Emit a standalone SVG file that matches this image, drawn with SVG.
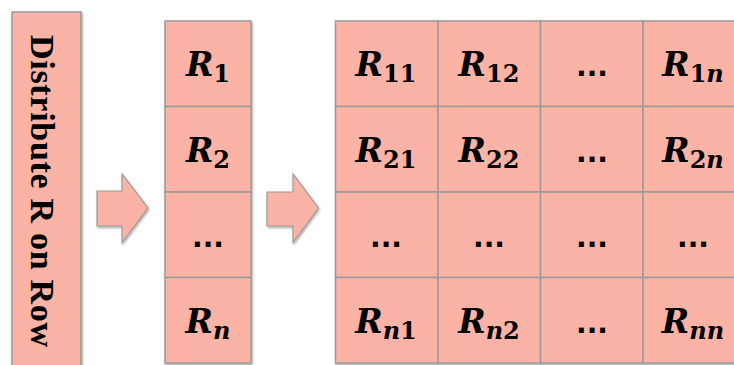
<svg xmlns="http://www.w3.org/2000/svg" width="734" height="365" viewBox="0 0 734 365">
<defs>
<filter id="sh" x="-10%" y="-10%" width="130%" height="130%">
<feDropShadow dx="1" dy="1.5" stdDeviation="1.2" flood-color="#000" flood-opacity="0.35"/>
</filter>
</defs>
<style>
.cell{fill:#FBB3A5;stroke:#9a9a9a;stroke-width:1.5}
.arr{fill:#FBB3A5;stroke:#9a9a9a;stroke-width:1.2}
.lbl{font-family:"DejaVu Serif","Liberation Serif",serif;font-weight:bold;fill:#000;text-anchor:middle}
.R{font-style:italic;font-size:33px}
.sub{font-size:24px}
.si{font-style:italic}
.dots{font-family:"DejaVu Sans",sans-serif;font-weight:bold;font-size:28px;text-anchor:middle}
.vt{font-family:"Liberation Serif","Times New Roman",serif;font-weight:bold;font-size:34px}
</style>
<rect width="734" height="365" fill="#fff"/>
<g id="label-bar">
<rect class="cell" x="12" y="12" width="69" height="370" filter="url(#sh)"/>
<text class="vt" transform="translate(31,35) rotate(90)" textLength="312" lengthAdjust="spacing">Distribute R on Row</text>
</g>
<g id="connectors">
<path class="arr" filter="url(#sh)" d="M97,191 L122,191 L122,174 L148,208 L122,242.5 L122,226 L97,226 Z"/>
<path class="arr" filter="url(#sh)" d="M267,192 L293,192 L293,174 L318.5,208 L293,242.5 L293,226 L267,226 Z"/>
</g>
<g id="row-vector" filter="url(#sh)">
<rect class="cell" x="165" y="21" width="86" height="85.5"/>
<rect class="cell" x="165" y="106.5" width="86" height="85.5"/>
<rect class="cell" x="165" y="192" width="86" height="85.5"/>
<rect class="cell" x="165" y="277.5" width="86" height="85.5"/>
</g>
<g id="row-vector-labels">
<text class="lbl" x="208" y="76"><tspan class="R">R</tspan><tspan class="sub" dy="6">1</tspan></text>
<text class="lbl" x="208" y="161.5"><tspan class="R">R</tspan><tspan class="sub" dy="6">2</tspan></text>
<text class="dots" x="208" y="247">...</text>
<text class="lbl" x="208" y="332.5"><tspan class="R">R</tspan><tspan class="sub si" dy="6">n</tspan></text>
</g>
<g id="matrix" filter="url(#sh)">
<rect class="cell" x="335.5" y="21" width="102.5" height="85.5"/>
<rect class="cell" x="438" y="21" width="102.5" height="85.5"/>
<rect class="cell" x="540.5" y="21" width="102.5" height="85.5"/>
<rect class="cell" x="643" y="21" width="102.5" height="85.5"/>
<rect class="cell" x="335.5" y="106.5" width="102.5" height="85.5"/>
<rect class="cell" x="438" y="106.5" width="102.5" height="85.5"/>
<rect class="cell" x="540.5" y="106.5" width="102.5" height="85.5"/>
<rect class="cell" x="643" y="106.5" width="102.5" height="85.5"/>
<rect class="cell" x="335.5" y="192" width="102.5" height="85.5"/>
<rect class="cell" x="438" y="192" width="102.5" height="85.5"/>
<rect class="cell" x="540.5" y="192" width="102.5" height="85.5"/>
<rect class="cell" x="643" y="192" width="102.5" height="85.5"/>
<rect class="cell" x="335.5" y="277.5" width="102.5" height="85.5"/>
<rect class="cell" x="438" y="277.5" width="102.5" height="85.5"/>
<rect class="cell" x="540.5" y="277.5" width="102.5" height="85.5"/>
<rect class="cell" x="643" y="277.5" width="102.5" height="85.5"/>
</g>
<g id="matrix-labels">
<text class="lbl" x="386" y="76"><tspan class="R">R</tspan><tspan class="sub" dy="6">11</tspan></text>
<text class="lbl" x="489" y="76"><tspan class="R">R</tspan><tspan class="sub" dy="6">12</tspan></text>
<text class="dots" x="592" y="76">...</text>
<text class="lbl" x="693" y="76"><tspan class="R">R</tspan><tspan class="sub" dy="6">1</tspan><tspan class="sub si">n</tspan></text>
<text class="lbl" x="386" y="161.5"><tspan class="R">R</tspan><tspan class="sub" dy="6">21</tspan></text>
<text class="lbl" x="489" y="161.5"><tspan class="R">R</tspan><tspan class="sub" dy="6">22</tspan></text>
<text class="dots" x="592" y="161.5">...</text>
<text class="lbl" x="693" y="161.5"><tspan class="R">R</tspan><tspan class="sub" dy="6">2</tspan><tspan class="sub si">n</tspan></text>
<text class="dots" x="386" y="247">...</text>
<text class="dots" x="489" y="247">...</text>
<text class="dots" x="592" y="247">...</text>
<text class="dots" x="693" y="247">...</text>
<text class="lbl" x="386" y="332.5"><tspan class="R">R</tspan><tspan class="sub si" dy="6">n</tspan><tspan class="sub">1</tspan></text>
<text class="lbl" x="489" y="332.5"><tspan class="R">R</tspan><tspan class="sub si" dy="6">n</tspan><tspan class="sub">2</tspan></text>
<text class="dots" x="592" y="332.5">...</text>
<text class="lbl" x="693" y="332.5"><tspan class="R">R</tspan><tspan class="sub si" dy="6">nn</tspan></text>
</g>
</svg>
